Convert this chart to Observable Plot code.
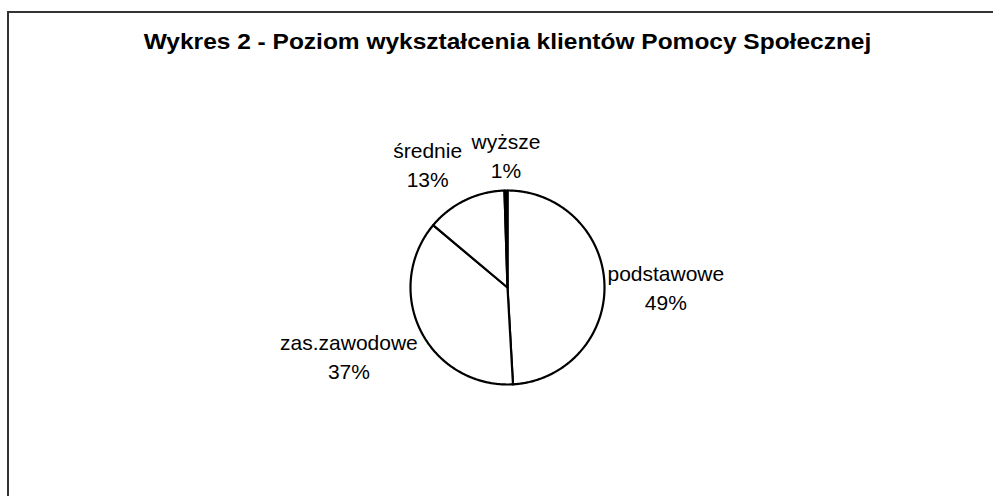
<!DOCTYPE html>
<html><head><meta charset="utf-8">
<script src="https://cdn.jsdelivr.net/npm/d3@7"></script>
<script src="https://cdn.jsdelivr.net/npm/@observablehq/plot@0.6"></script>
<style>
body{margin:0;background:#fff;}
#wrap{position:relative;width:993px;height:496px;overflow:hidden;font-family:Arial,"Liberation Sans",sans-serif;background:#fff;}
#frame{position:absolute;left:7px;top:11px;width:1000px;height:500px;border-left:2px solid #333;border-top:2px solid #333;}
#title{position:absolute;left:0;width:1015px;top:31px;line-height:22px;text-align:center;font-weight:bold;font-size:22px;color:#000;white-space:nowrap;transform:scaleX(1.113);transform-origin:507.5px 50%;}
#chart{position:absolute;left:0;top:0;}
</style></head>
<body>
<div id="wrap"><div id="frame"></div><div id="title"></div><div id="chart"></div></div>
<script>
// ---- data ----
const titleText = "Wykres 2 - Poziom wykształcenia klientów Pomocy Społecznej";
const categories = ["podstawowe", "zas.zawodowe", "średnie", "wyższe"];
const shares = [49.1, 37.0, 13.4, 0.5];
const sliceFills = ["white", "white", "white", "black"];

document.getElementById("title").textContent = titleText;

// ---- layout ----
const W = 993, H = 496;
const CX = 507, CY = 287, R = 97;   // pixel centre & radius
const FONT = 21, LINE = 1.38;
const fontFamily = "Arial, 'Liberation Sans', sans-serif";

const pie = d3.pie().sort(null).value(d => d.value).startAngle(0).endAngle(2 * Math.PI);
const rows = categories.map((name, i) => ({name, value: shares[i]}));
const arcs = pie(rows);

// polygon points for each slice (unit circle, y up)
const polyPts = [];
for (const a of arcs) {
  const n = Math.max(2, Math.ceil((a.endAngle - a.startAngle) / 0.01));
  polyPts.push({name: a.data.name, x: 0, y: 0});
  for (let j = 0; j <= n; j++) {
    const t = a.startAngle + (a.endAngle - a.startAngle) * j / n;
    polyPts.push({name: a.data.name, x: Math.sin(t), y: Math.cos(t)});
  }
  polyPts.push({name: a.data.name, x: 0, y: 0});
}

// label placement (outside end, text box touching the rim point)
const ctx = document.createElement("canvas").getContext("2d");
ctx.font = `${FONT}px ${fontFamily}`;
const ASC = FONT * 0.72, DESC = FONT * 0.52, GX = 3;
const labels = arcs.map(a => {
  const text = a.data.name + "\n" + Math.round(a.data.value) + "%";
  const w = d3.max(text.split("\n"), s => ctx.measureText(s).width);
  const lead = FONT * LINE;               // baseline spacing
  const m = (a.startAngle + a.endAngle) / 2;
  const dx = Math.sin(m), dy = -Math.cos(m); // screen direction
  const sx = dx > 0.3 ? 1 : dx < -0.3 ? -1 : 0;
  const sy = dy > 0.3 ? 1 : dy < -0.3 ? -1 : 0;
  const rx = CX + R * dx, ry = CY + R * dy;
  const px = rx + sx * (w / 2 + GX);
  let b1;                                  // first baseline
  if (sy > 0) b1 = ry + 2 + ASC;
  else if (sy < 0) b1 = ry - 4 - DESC - lead;
  else b1 = ry + (ASC - DESC - lead) / 2 + 7;
  const midBase = b1 + lead / 2;
  return {text, x: (px - CX) / R, yb: midBase};
});

const chart = Plot.plot({
  width: W, height: H,
  marginTop: 0, marginRight: 0, marginBottom: 0, marginLeft: 0,
  x: {domain: [-CX / R, (W - CX) / R], axis: null},
  y: {domain: [-(H - CY) / R, CY / R], axis: null},
  color: {domain: categories, range: sliceFills},
  style: {background: "transparent", overflow: "visible"},
  marks: [
    Plot.line(polyPts, {x: "x", y: "y", z: "name", fill: "name", stroke: "black", strokeWidth: 2.2, strokeLinejoin: "round", curve: "linear"}),
    Plot.text(labels, {x: "x", y: d => (CY - (d.yb - FONT * 0.35)) / R, text: "text", fontSize: FONT, lineHeight: LINE, fill: "black", textAnchor: "middle", lineAnchor: "middle", fontFamily})
  ]
});
document.getElementById("chart").appendChild(chart);
</script>
</body></html>
